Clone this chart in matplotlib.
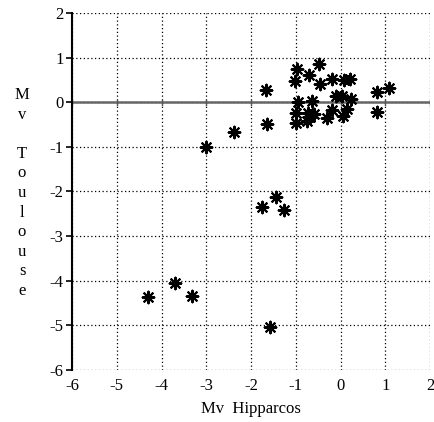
import matplotlib
matplotlib.use("Agg")
import matplotlib.pyplot as plt

mv_hipparcos = [-3.0, -2.38, -1.67, -1.65, -1.75, -1.44, -1.26, -1.58, -4.30, -3.70, -3.32,
                -0.97, -0.49, -0.70, -1.02, -0.46, -0.20, 0.085, 0.21, 0.82, 1.09, 0.82,
                -0.94, -0.64, -1.0, -0.72, -0.59, -0.68, -0.74, -1.0, -0.31, -0.18, 0.05,
                0.14, -0.09, 0.03, 0.23]
mv_toulouse = [-1.0, -0.66, 0.28, -0.48, -2.34, -2.12, -2.41, -5.03, -4.36, -4.05, -4.34,
               0.74, 0.86, 0.62, 0.48, 0.42, 0.52, 0.50, 0.52, 0.24, 0.33, -0.21,
               0.01, 0.02, -0.23, -0.23, -0.26, -0.33, -0.41, -0.47, -0.36, -0.17, -0.30,
               -0.15, 0.14, 0.14, 0.07]
x_ticks = [-6, -5, -4, -3, -2, -1, 0, 1, 2]
y_ticks = [-6, -5, -4, -3, -2, -1, 0, 1, 2]
y_label_chars = ['M', 'v', '', 'T', 'o', 'u', 'l', 'o', 'u', 's', 'e']

plt.rcParams['font.family'] = ['Liberation Serif', 'DejaVu Serif']

fig = plt.figure(figsize=(4.34, 4.22), dpi=100)
ax = fig.add_axes([72/434, 1 - 370/422, 358/434, 357/422])
ax.set_xlim(-6, 2)
ax.set_ylim(-6, 2)
ax.set_xticks(x_ticks)
ax.set_yticks(y_ticks)
ax.set_xticklabels([str(t) for t in x_ticks], fontsize=12)
ax.set_yticklabels([str(t) for t in y_ticks], fontsize=12)
ax.grid(True, linestyle=(0, (1, 2)), color='black', linewidth=0.9)
for s in ['top', 'right', 'bottom']:
    ax.spines[s].set_visible(False)
ax.spines['left'].set_linewidth(1.5)
ax.tick_params(axis='x', length=0, pad=6)
ax.tick_params(axis='y', length=4, width=1.2, direction='out', pad=2)
ax.axhline(0, color='#666666', linewidth=1.8, zorder=2)
for t in x_ticks:
    ax.plot([t, t], [-0.06, 0.06], color='#555555', linewidth=1.0, zorder=2)

ax.scatter(mv_hipparcos, mv_toulouse, marker=(8, 2, 0), s=70, color='black',
           linewidths=1.5, zorder=5, clip_on=False)

ax.set_xlabel('Mv  Hipparcos', fontsize=12, labelpad=5)
fig.text(22/434, 1 - 193/422, '\n'.join(y_label_chars),
         ha='center', va='center', fontsize=12, linespacing=1.3)

fig.savefig('out.png', dpi=100)
